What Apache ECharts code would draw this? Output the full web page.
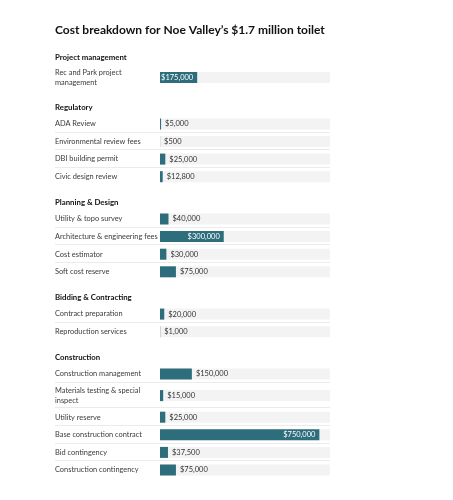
<!DOCTYPE html>
<html><head><meta charset="utf-8">
<script src="https://cdn.jsdelivr.net/npm/echarts@6/dist/echarts.min.js"></script>
<style>html,body{margin:0;padding:0;background:#fff}#c{width:453px;height:500px}</style>
</head><body><div id="c"></div>
<script>
const titleText = 'Cost breakdown for Noe Valley\u2019s $1.7 million toilet';
const sections = ['Project management', 'Regulatory', 'Planning & Design', 'Bidding & Contracting', 'Construction'];
const categories = [
  'Rec and Park project\nmanagement',
  'ADA Review', 'Environmental review fees', 'DBI building permit', 'Civic design review',
  'Utility & topo survey', 'Architecture & engineering fees', 'Cost estimator', 'Soft cost reserve',
  'Contract preparation', 'Reproduction services',
  'Construction management', 'Materials testing & special\ninspect', 'Utility reserve',
  'Base construction contract', 'Bid contingency', 'Construction contingency'
];
const sectionOf = [0, 1, 1, 1, 1, 2, 2, 2, 2, 3, 3, 4, 4, 4, 4, 4, 4];
const values = [175000, 5000, 500, 25000, 12800, 40000, 300000, 30000, 75000, 20000, 1000, 150000, 15000, 25000, 750000, 37500, 75000];
const axisMax = 800000;

// layout constants
const FONT = 'Lato, "Open Sans", sans-serif';
const BAR_COLOR = '#2e6e7c';
const TRACK = '#f3f3f3';
const LEFT = 55, BAR_LEFT = 160, BAR_W = 170, BAR_H = 11;
const ROW_HALF = 8.8, ROW2_HALF = 12.8, HEAD_BELOW = 6.5, HEAD_ABOVE = 18.2;

const grids = [], xAxes = [], yAxes = [], series = [], graphics = [];
let y = 58.3, prevHalf = null, prevSection = -1;
categories.forEach((cat, i) => {
  const half = cat.indexOf('\n') >= 0 ? ROW2_HALF : ROW_HALF;
  if (sectionOf[i] !== prevSection) {
    if (prevHalf !== null) y += prevHalf + HEAD_ABOVE;
    graphics.push({ type: 'text', left: LEFT, top: y - 5, style: { text: sections[sectionOf[i]], font: 'bold 7.8px ' + FONT, fill: '#111' } });
    y += HEAD_BELOW + half;
  } else {
    y += prevHalf + half;
    const sepY = Math.round(y - half - 1) + 0.5;
    graphics.push({ type: 'line', shape: { x1: LEFT, y1: sepY, x2: BAR_LEFT + BAR_W, y2: sepY }, style: { stroke: '#ebebeb', lineWidth: 1 } });
  }
  prevHalf = half; prevSection = sectionOf[i];

  grids.push({ left: BAR_LEFT, width: BAR_W, top: y - BAR_H / 2, height: BAR_H });
  xAxes.push({ type: 'value', gridIndex: i, min: 0, max: axisMax, show: false });
  yAxes.push({
    type: 'category', gridIndex: i, data: [cat],
    axisLine: { show: false }, axisTick: { show: false },
    axisLabel: { margin: BAR_LEFT - LEFT, align: 'left', fontFamily: FONT, fontSize: 7.4, color: '#3a3a3a', lineHeight: 10 }
  });
  const inside = values[i] >= 175000;
  series.push({
    type: 'bar', xAxisIndex: i, yAxisIndex: i, data: [values[i]], barWidth: BAR_H,
    showBackground: true, backgroundStyle: { color: TRACK },
    itemStyle: { color: BAR_COLOR }, silent: true,
    label: {
      show: true, position: inside ? 'insideRight' : 'right', distance: 4,
      fontFamily: FONT, fontSize: 7.5, color: inside ? '#fff' : '#333',
      formatter: p => '$' + p.value.toLocaleString('en-US')
    }
  });
});

const chart = echarts.init(document.getElementById('c'), null, { renderer: 'canvas' });
chart.setOption({
  animation: false,
  title: { text: titleText, left: LEFT - 5, top: 19, textStyle: { fontFamily: FONT, fontWeight: 'bold', fontSize: 12, color: '#111' } },
  grid: grids, xAxis: xAxes, yAxis: yAxes, series: series, graphic: graphics
});
</script></body></html>
